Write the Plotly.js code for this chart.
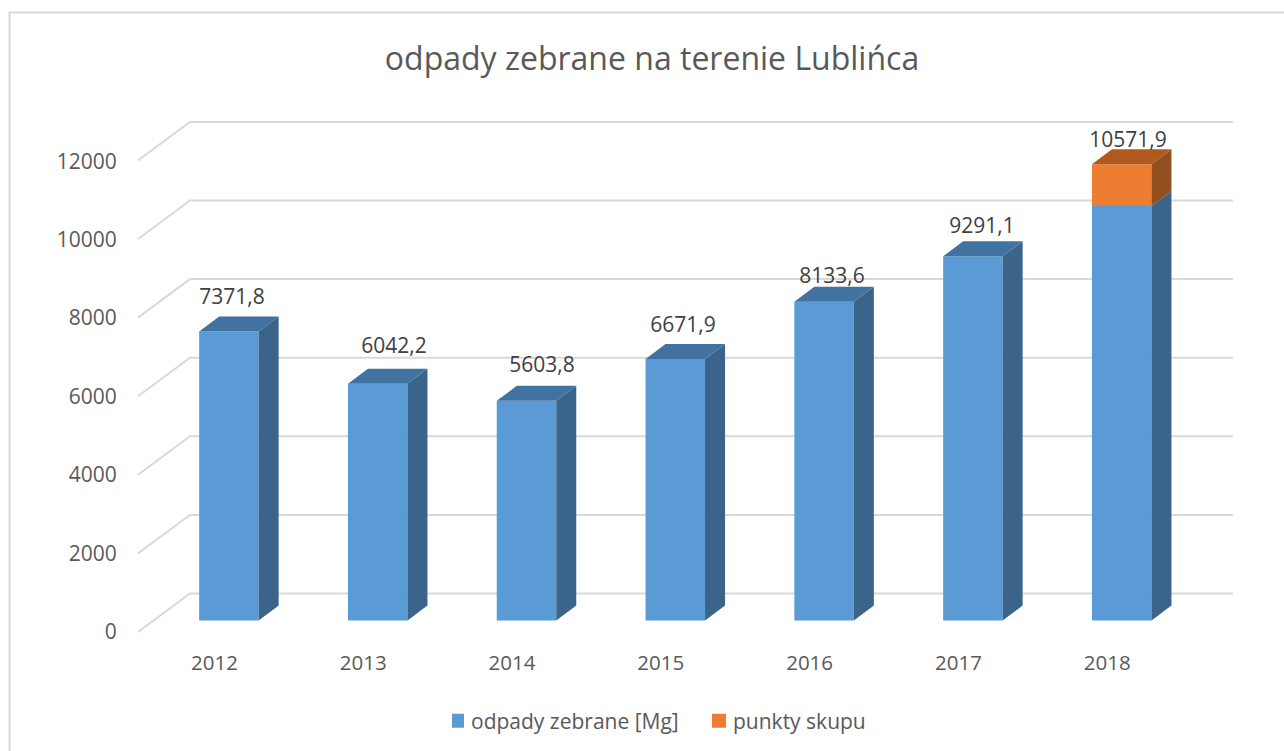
<!DOCTYPE html>
<html>
<head>
<meta charset="utf-8">
<script src="https://cdn.plot.ly/plotly-3.0.1.min.js"></script>
<style>html,body{margin:0;padding:0;background:#fff;overflow:hidden}</style>
</head>
<body>
<div id="chart" style="width:1284px;height:751px"></div>
<script>
// ---- data ----
var years = ['2012','2013','2014','2015','2016','2017','2018'];
var odpadyZebrane = [7371.8, 6042.2, 5603.8, 6671.9, 8133.6, 9291.1, 10571.9];
var punktySkupu = [0, 0, 0, 0, 0, 0, 1070];
var tickValues = [0, 2000, 4000, 6000, 8000, 10000, 12000];
var dataLabels = ['7371,8','6042,2','5603,8','6671,9','8133,6','9291,1','10571,9'];

// ---- faux-3D geometry (pixels on the page) ----
var W = 1284, H = 751;
var plotL = 130, plotR = 1233, plotT = 100, plotB = 636;
var x0Px = 214.4, slotPx = 148.8;      // centre of first category, category spacing
var y0Px = 631.6, vPx = 0.0392;        // pixel of value 0, pixels per value unit
var barShift = 14.5 / slotPx, barW = 59.5 / slotPx;
var depthX = 20 / slotPx, depthV = 15 / vPx;
var floorV = 11.1 / vPx;               // bars stand in front of the axis plane
var gridScale = 1.0025;
var gridFrontX = (138 - x0Px) / slotPx, gridFrontV = -0.4 / vPx;
var backX = 52 / slotPx, backV = 38.1 / vPx;
var labelDxPx = [17.6, 30.8, 30, 22.2, 22.4, 23.6, 20.8];
var labelDyPx = [32.5, 35.6, 33.8, 32, 23.6, 28.3, 22.2];

var xRange = [(plotL - x0Px) / slotPx, (plotR - x0Px) / slotPx];
var yRange = [(y0Px - plotB) / vPx, (y0Px - plotT) / vPx];
var idx = years.map(function (_, i) { return i; });

function sideFace(bases, heights) {
  var xs = [], ys = [];
  idx.forEach(function (i) {
    if (!heights[i]) return;
    var r = i + barShift + barW / 2, b = bases[i], t = b + heights[i];
    xs.push(r, r + depthX, r + depthX, r, r, null);
    ys.push(b, b + depthV, t + depthV, t, b, null);
  });
  return {x: xs, y: ys};
}
function topFace(tops, show) {
  var xs = [], ys = [];
  idx.forEach(function (i) {
    if (!show[i]) return;
    var l = i + barShift - barW / 2, r = i + barShift + barW / 2, t = tops[i];
    xs.push(l, l + depthX, r + depthX, r, l, null);
    ys.push(t, t + depthV, t + depthV, t, t, null);
  });
  return {x: xs, y: ys};
}
function face(f, color) {
  return {type: 'scatter', mode: 'lines', x: f.x, y: f.y, fill: 'toself', fillcolor: color,
    line: {width: 0, color: color}, showlegend: false, hoverinfo: 'skip'};
}

var blueBase = idx.map(function () { return floorV; });
var orangeBase = idx.map(function (i) { return floorV + odpadyZebrane[i]; });
var stackTop = idx.map(function (i) { return orangeBase[i] + punktySkupu[i]; });
var barX = idx.map(function (i) { return i + barShift; });

var traces = [
  {type: 'bar', name: 'odpady zebrane [Mg]', x: barX, y: odpadyZebrane, base: blueBase, width: barW,
    marker: {color: '#5B9BD5', line: {width: 0}}},
  {type: 'bar', name: 'punkty skupu', x: barX, y: punktySkupu, base: orangeBase, width: barW,
    marker: {color: '#ED7D31', line: {width: 0}}},
  face(sideFace(blueBase, odpadyZebrane), '#3A6489'),
  face(sideFace(orangeBase, punktySkupu), '#93501F'),
  face(topFace(orangeBase, punktySkupu.map(function (v) { return v === 0; })), '#4273A0'),
  face(topFace(stackTop, punktySkupu.map(function (v) { return v > 0; })), '#B05A20'),
  {type: 'scatter', mode: 'text', showlegend: false, hoverinfo: 'skip', cliponaxis: false,
    x: idx.map(function (i) { return i + labelDxPx[i] / slotPx; }),
    y: idx.map(function (i) { return stackTop[i] + labelDyPx[i] / vPx; }),
    text: dataLabels, textposition: 'middle center',
    textfont: {family: 'Open Sans', size: 21, color: '#404040'}}
];

var gridShapes = tickValues.map(function (v) {
  var g = v * gridScale;
  return {type: 'path', layer: 'below', xref: 'x', yref: 'y',
    path: 'M' + gridFrontX + ',' + (g + gridFrontV) + ' L' + (gridFrontX + backX) + ',' + (g + backV) +
          ' L' + xRange[1] + ',' + (g + backV),
    line: {color: '#D9D9D9', width: 2}};
});
var frame = {type: 'rect', layer: 'below', xref: 'paper', yref: 'paper',
  x0: (9.5 - plotL) / (plotR - plotL), x1: (W + 20 - plotL) / (plotR - plotL),
  y0: (plotB - (H + 20)) / (plotB - plotT), y1: (plotB - 12.5) / (plotB - plotT),
  line: {color: '#D9D9D9', width: 2}, fillcolor: 'rgba(0,0,0,0)'};

var layout = {
  width: W, height: H,
  margin: {l: plotL, r: W - plotR, t: plotT, b: H - plotB, pad: 0},
  paper_bgcolor: '#fff', plot_bgcolor: 'rgba(0,0,0,0)',
  font: {family: 'Open Sans', color: '#595959', size: 21},
  barmode: 'overlay',
  title: {text: 'odpady zebrane na terenie Lublińca', x: 652 / W, xanchor: 'center', y: 1 - 59 / H, yanchor: 'middle',
    font: {family: 'Open Sans', size: 32, color: '#595959'}},
  xaxis: {range: xRange, tickmode: 'array', tickvals: idx, ticktext: years, showgrid: false, zeroline: false,
    showline: false, ticks: 'outside', ticklen: 8, tickcolor: 'rgba(0,0,0,0)', tickfont: {size: 20.5, color: '#595959'}},
  yaxis: {range: yRange, tickmode: 'array', tickvals: tickValues, ticktext: tickValues.map(String), showgrid: false,
    zeroline: false, showline: false, ticks: 'outside', ticklen: 8, tickcolor: 'rgba(0,0,0,0)',
    tickfont: {size: 21, color: '#595959'}},
  legend: {orientation: 'h', xref: 'container', x: 452 / W, yref: 'container', y: 1 - 721 / H, yanchor: 'middle',
    xanchor: 'left', indentation: -15, entrywidth: 232, entrywidthmode: 'pixels',
    font: {size: 21, color: '#595959'}, traceorder: 'normal'},
  showlegend: true,
  shapes: gridShapes.concat([frame]),
  hovermode: false
};
Plotly.newPlot('chart', traces, layout, {displayModeBar: false, staticPlot: true}).then(function () {
  // tighten the legend keys: larger swatch, text closer to it
  document.querySelectorAll('#chart .legendtext').forEach(function (t) {
    t.setAttribute('x', parseFloat(t.getAttribute('x')) - 6);
  });
  document.querySelectorAll('#chart .legendpoints path').forEach(function (p) {
    p.setAttribute('d', 'M7,7H-7V-7H7Z');
  });
});
</script>
</body>
</html>
